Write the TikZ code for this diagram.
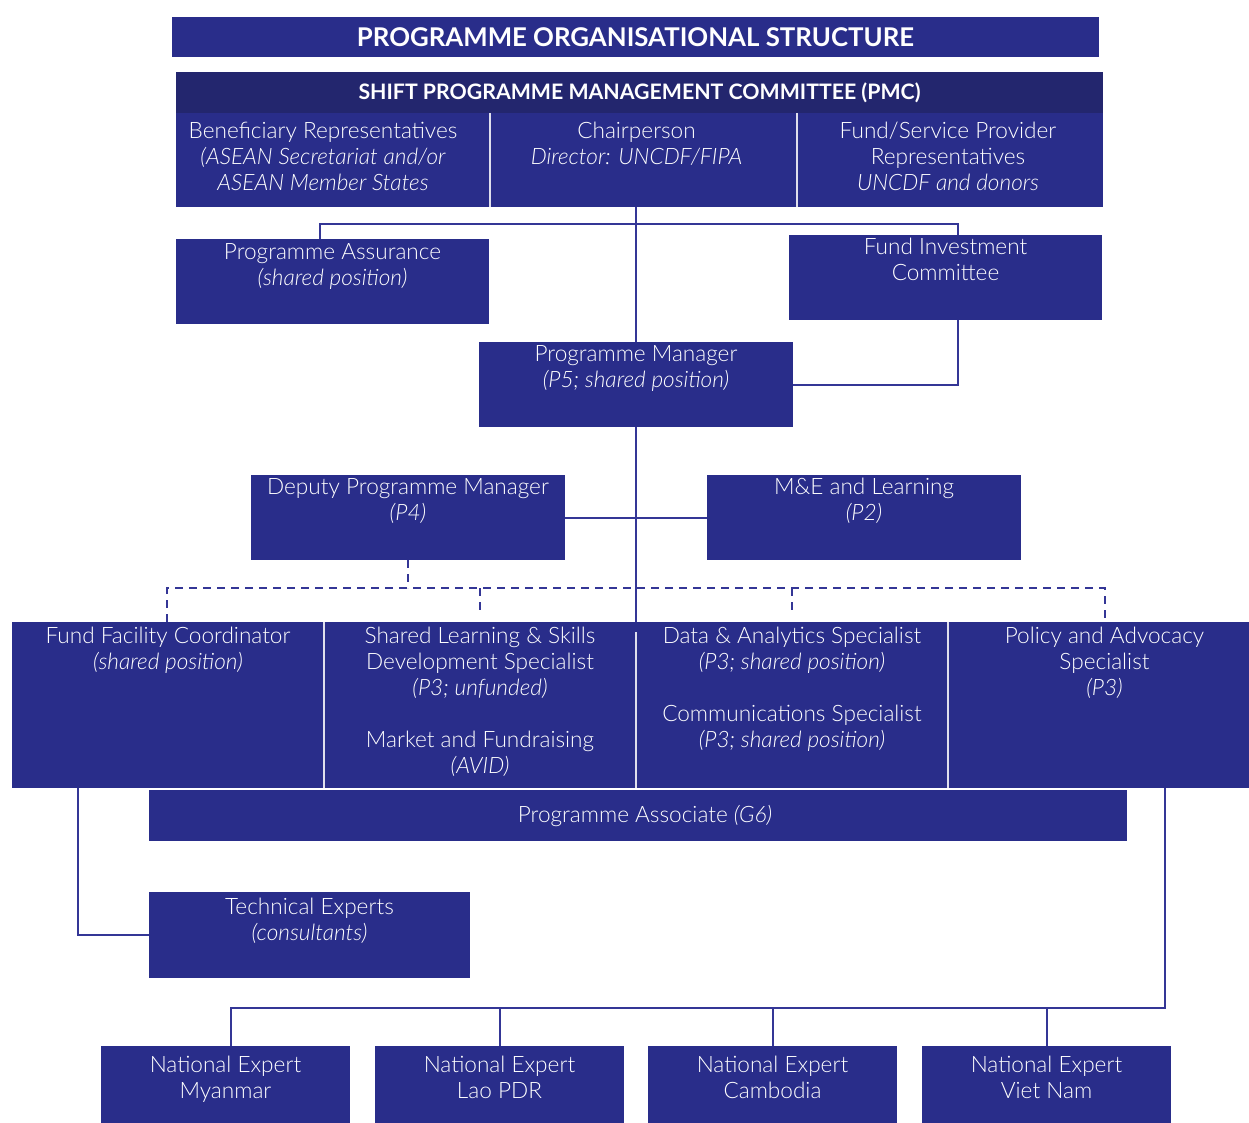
\documentclass[tikz,border=0pt]{standalone}
\usepackage{fontspec}
\setmainfont{Lato Light}[BoldFont={Lato Bold}]
\definecolor{navy}{RGB}{41,45,138}
\definecolor{navyd}{RGB}{35,38,110}
\definecolor{linec}{RGB}{52,54,150}
\begin{document}
\begin{tikzpicture}[x=1pt,y=-1pt,
  box/.style={fill=navy, draw=none, anchor=north west, inner sep=0pt, outer sep=0pt, text=white},
  txt/.style={text=white, align=center, inner sep=0pt, anchor=north, font=\fontsize{22.6}{26}\selectfont},
  conn/.style={draw=linec, line width=2pt},
  dsh/.style={draw=linec, line width=2pt, dash pattern=on 8pt off 6pt},
  divl/.style={draw=white!85!navy, line width=1.2pt}]
\useasboundingbox (0,0) rectangle (1249,1123);

% title
\node[box, minimum width=927pt, minimum height=40pt, font=\bfseries\fontsize{25.8}{30}\selectfont] (title) at (172,17) {PROGRAMME ORGANISATIONAL STRUCTURE};

% PMC
\node[box, minimum width=927pt, minimum height=135pt] (pmc) at (176,72) {};
\node[box, fill=navyd, minimum width=927pt, minimum height=41pt, font=\bfseries\fontsize{21.3}{25}\selectfont] (pmch) at (176,72) {SHIFT PROGRAMME MANAGEMENT COMMITTEE (PMC)};
\node[box, minimum width=314pt, minimum height=94pt] (ben) at (176,113) {};
\node[box, minimum width=307pt, minimum height=94pt] (chair) at (490,113) {};
\node[box, minimum width=306pt, minimum height=94pt] (fsp) at (797,113) {};
\draw[divl] (ben.north east) -- (ben.south east);
\draw[divl] (chair.north east) -- (chair.south east);
\node[txt] (ben-t) at ([xshift=-10pt,yshift=-9pt]ben.north) {Beneficiary Representatives\\\textit{(ASEAN Secretariat and/or}\\\textit{ASEAN Member States}};
\node[txt] (chair-t) at ([xshift=-7pt,yshift=-9pt]chair.north) {Chairperson\\\textit{Director: UNCDF/FIPA}};
\node[txt] (fsp-t) at ([xshift=-2pt,yshift=-9pt]fsp.north) {Fund/Service Provider\\Representatives\\\textit{UNCDF and donors}};

% second level
\node[box, minimum width=313pt, minimum height=85pt] (pa) at (176,239) {};
\node[txt] (pa-t) at ([yshift=-4pt]pa.north) {Programme Assurance\\\textit{(shared position)}};
\node[box, minimum width=313pt, minimum height=85pt] (fic) at (789,235) {};
\node[txt] (fic-t) at ([yshift=-3pt]fic.north) {Fund Investment\\Committee};
\node[box, minimum width=314pt, minimum height=85pt] (pm) at (479,342) {};
\node[txt] (pm-t) at ([yshift=-3pt]pm.north) {Programme Manager\\\textit{(P5; shared position)}};
\node[box, minimum width=314pt, minimum height=85pt] (dpm) at (251,475) {};
\node[txt] (dpm-t) at ([yshift=-3pt]dpm.north) {Deputy Programme Manager\\\textit{(P4)}};
\node[box, minimum width=314pt, minimum height=85pt] (me) at (707,475) {};
\node[txt] (me-t) at ([yshift=-3pt]me.north) {M\&E and Learning\\\textit{(P2)}};

% specialists row
\node[box, minimum width=312pt, minimum height=166pt] (c1) at (12,622) {};
\node[box, minimum width=312pt, minimum height=166pt] (c2) at (324,622) {};
\node[box, minimum width=312pt, minimum height=166pt] (c3) at (636,622) {};
\node[box, minimum width=301pt, minimum height=166pt] (c4) at (948,622) {};
\draw[divl] (c1.north east) -- (c1.south east);
\draw[divl] ([yshift=-10pt]c2.north east) -- (c2.south east);
\draw[divl] (c3.north east) -- (c3.south east);
\node[txt] (c1-t) at ([yshift=-5pt]c1.north) {Fund Facility Coordinator\\\textit{(shared position)}};
\node[txt] (c2-t) at ([yshift=-5pt]c2.north) {Shared Learning \& Skills\\Development Specialist\\\textit{(P3; unfunded)}\\[26pt]Market and Fundraising\\\textit{(AVID)}};
\node[txt] (c3-t) at ([yshift=-5pt]c3.north) {Data \& Analytics Specialist\\\textit{(P3; shared position)}\\[26pt]Communications Specialist\\\textit{(P3; shared position)}};
\node[txt] (c4-t) at ([xshift=6pt,yshift=-5pt]c4.north) {Policy and Advocacy\\Specialist\\\textit{(P3)}};

\node[box, minimum width=978pt, minimum height=51pt] (pas) at (149,790) {};
\node[txt, anchor=center] (pas-t) at ([xshift=7pt]pas.center) {Programme Associate \textit{(G6)}};

\node[box, minimum width=321pt, minimum height=86pt] (te) at (149,892) {};
\node[txt] (te-t) at ([yshift=-6pt]te.north) {Technical Experts\\\textit{(consultants)}};

\node[box, minimum width=249pt, minimum height=77pt] (ne1) at (101,1046) {};
\node[box, minimum width=249pt, minimum height=77pt] (ne2) at (375,1046) {};
\node[box, minimum width=249pt, minimum height=77pt] (ne3) at (648,1046) {};
\node[box, minimum width=249pt, minimum height=77pt] (ne4) at (922,1046) {};
\node[txt] (ne1-t) at ([yshift=-10pt]ne1.north) {National Expert\\Myanmar};
\node[txt] (ne2-t) at ([yshift=-10pt]ne2.north) {National Expert\\Lao PDR};
\node[txt] (ne3-t) at ([yshift=-10pt]ne3.north) {National Expert\\Cambodia};
\node[txt] (ne4-t) at ([yshift=-10pt]ne4.north) {National Expert\\Viet Nam};

% connectors
\coordinate (ja) at (320,224);
\coordinate (jb) at (958,224);
\draw[conn] (pm.north |- pmc.south) -- (pm.north);
\draw[conn] (ja |- pa.north) -- (ja) -- (jb) -- (jb |- fic.north);
\draw[conn] (jb |- fic.south) |- (pm.east);
\draw[conn] (pm.south) -- (pm.south |- c3.north);
\draw[conn] (dpm.east) -- (me.west);

\coordinate (dl) at (167,588);
\coordinate (dr) at (1105,588);
\draw[dsh] (dpm.south) -- (dpm.south |- dl);
\draw[dsh] (dl |- c1.north) -- (dl) -- (dr) -- (dr |- c4.north);
\draw[dsh] (c2.north |- dl) -- ([yshift=10pt]c2.north);
\draw[dsh] (c3.north |- dl) -- ([yshift=10pt]c3.north);

\coordinate (tl) at (78,788);
\draw[conn] (tl) |- (te.west);

\coordinate (nr) at (1165,788);
\coordinate (nb) at (1165,1008);
\draw[conn] (nr) -- (nb) -- ([xshift=5pt]ne1.north |- nb) -- ([xshift=5pt]ne1.north);
\draw[conn] (ne2.north |- nb) -- (ne2.north);
\draw[conn] (ne3.north |- nb) -- (ne3.north);
\draw[conn] (ne4.north |- nb) -- (ne4.north);
\end{tikzpicture}
\end{document}
